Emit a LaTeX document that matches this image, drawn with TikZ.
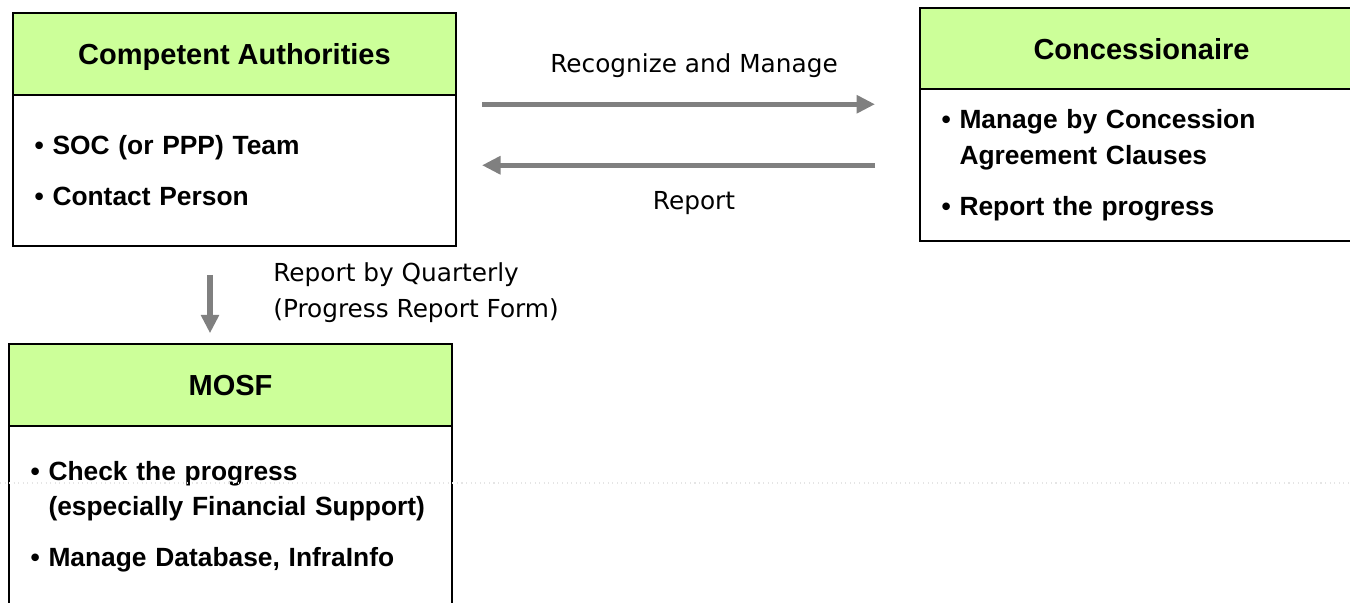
\documentclass[tikz,border=0pt]{standalone}
\usepackage{fontspec}
\setmainfont{Liberation Sans}
\newfontfamily\lblfont{DejaVu Sans}
\definecolor{hdgreen}{HTML}{CCFF99}
\definecolor{flowgray}{HTML}{808080}
\usetikzlibrary{arrows.meta, positioning}

\begin{document}
\begin{tikzpicture}[
  head/.style={draw, line width=1.1pt, fill=hdgreen, outer sep=0pt,
               minimum width=8.86cm, minimum height=1.63cm, text depth=0pt,
               font=\bfseries\fontsize{16.5}{20}\selectfont},
  body/.style={draw, line width=1.1pt, fill=white, outer sep=0pt,
               minimum width=8.86cm, text width=8.0cm, inner xsep=0.43cm,
               align=left, font=\bfseries\fontsize{15}{20}\selectfont},
  flow/.style={-{Triangle[length=0.37cm, width=0.35cm]}, line width=3pt, flowgray},
  lbl/.style={font=\lblfont\fontsize{14.1}{20.5}\selectfont, align=left, inner sep=0pt},
]
  \useasboundingbox (0,0) rectangle (27,-12.04);
  \clip (0,0) rectangle (27,-12.04);

  \node[head] (cahead) at (4.69,-1.08) {Competent Authorities};
  \node[body, below=0pt of cahead, minimum height=3.02cm] (cabody) {
    • SOC (or PPP) Team\\[9pt]
    • Contact Person
  };

  \node[head] (conhead) at (22.83,-0.97) {Concessionaire};
  \node[body, below=0pt of conhead, minimum height=3.04cm] (conbody) {
    • Manage by Concession\\
    \phantom{• }Agreement Clauses\\[9pt]
    • Report the progress
  };

  \node[head] (mohead) at (4.61,-7.70) {MOSF};
  \node[body, below=0pt of mohead, minimum height=3.64cm] (mobody) {
    • Check the progress\\
    \phantom{• }(especially Financial Support)\\[9pt]
    • Manage Database, InfraInfo
  };

  \coordinate (rmy) at ([yshift=1.22cm]conbody.west);
  \draw[flow, shorten <=0.52cm, shorten >=0.9cm] (cabody.east |- rmy) -- (rmy);
  \draw[flow, shorten <=0.9cm, shorten >=0.52cm] (conbody.west) -- (cabody.east |- conbody.west);
  \coordinate (qx) at ([xshift=-0.49cm]cabody.south);
  \draw[flow, shorten <=0.58cm, shorten >=0.22cm] (qx) -- (qx |- mohead.north);

  \node[lbl] (rmlbl) at (13.88,-1.32) {Recognize and Manage};
  \node[lbl] (replbl) at (13.88,-4.06) {Report};
  \node[lbl, anchor=west] (qlbl) at (5.46,-5.86) {Report by Quarterly\\(Progress Report Form)};

  \draw[gray!20, dotted, line width=0.6pt] (0,-9.66) -- (27,-9.66);
\end{tikzpicture}
\end{document}
